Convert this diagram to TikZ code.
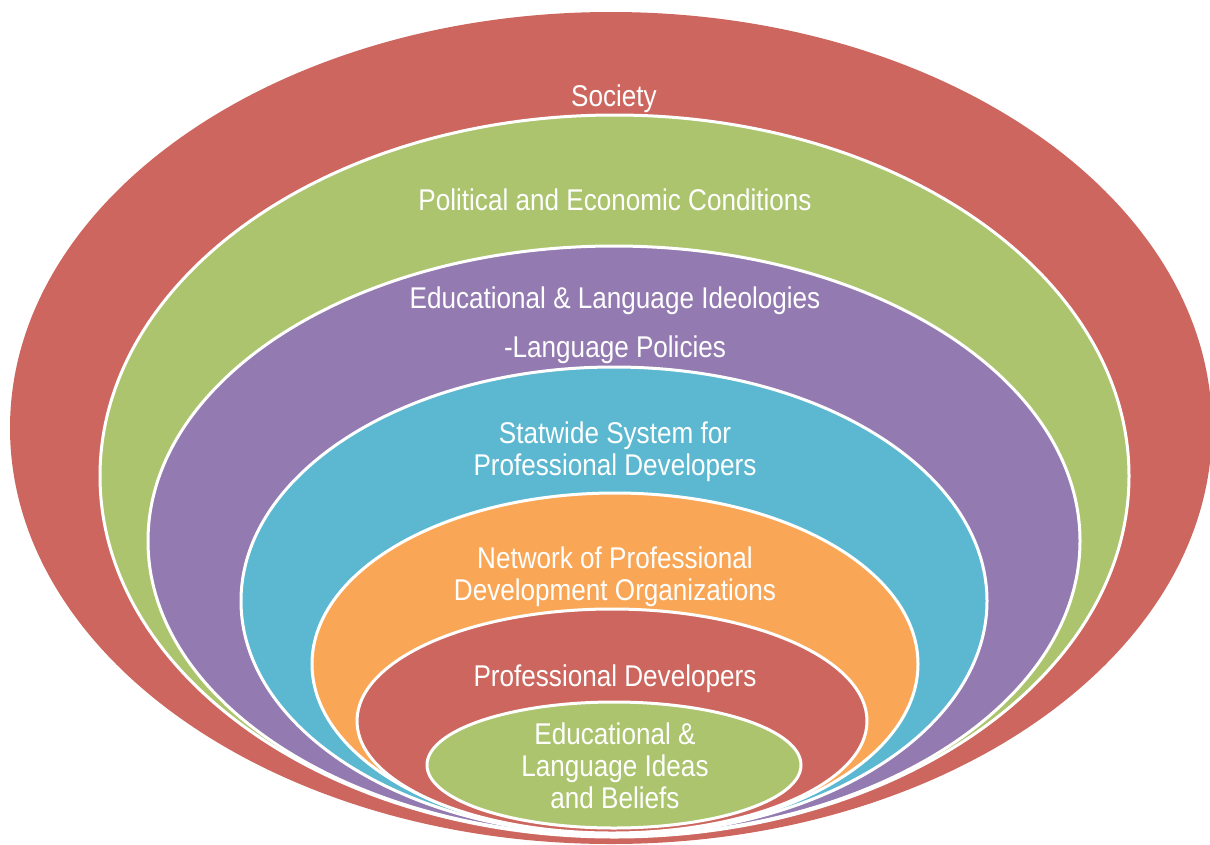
\documentclass[tikz,border=0pt]{standalone}
\usepackage{fontspec}
\setmainfont{Liberation Sans}[FakeStretch=0.87]
\definecolor{cred}{RGB}{205,102,94}
\definecolor{cgreen}{RGB}{172,196,110}
\definecolor{cpurple}{RGB}{147,122,176}
\definecolor{ccyan}{RGB}{91,184,208}
\definecolor{corange}{RGB}{249,167,86}
\tikzset{
  ring/.style={fill=#1, draw=white, line width=3pt},
  lbl/.style={text=white, font=\fontsize{30}{32}\selectfont, align=center, inner sep=0pt}
}
\begin{document}
\begin{tikzpicture}[x=1pt,y=-1pt]
\useasboundingbox (0,0) rectangle (1210,844);
\fill[cred] (611,428) ellipse [x radius=601, y radius=416];
\path[ring=cgreen] (614.5,476) ellipse [x radius=514.5, y radius=361];
\path[ring=cpurple] (614,541) ellipse [x radius=466, y radius=295];
\path[ring=ccyan] (614,601) ellipse [x radius=373, y radius=234];
\path[ring=corange] (615,664) ellipse [x radius=303, y radius=171];
\path[ring=cred] (612,721) ellipse [x radius=255, y radius=112];
\path[ring=cgreen] (614,765) ellipse [x radius=187, y radius=63];

\node[lbl] (society) at (614,99) {Society};
\node[lbl] (political) at (615,200) {Political and Economic Conditions};
\node[lbl] (ideologies) at (615,301) {Educational \& Language Ideologies};
\node[lbl] (policies) at (615,350) {-Language Policies};
\node[lbl] (statewide) at (615,452) {Statwide System for\\Professional Developers};
\node[lbl] (network) at (615,577) {Network of Professional\\Development Organizations};
\node[lbl] (profdev) at (615,679) {Professional Developers};
\node[lbl] (beliefs) at (615,766) {Educational \&\\Language Ideas\\and Beliefs};
\end{tikzpicture}
\end{document}
